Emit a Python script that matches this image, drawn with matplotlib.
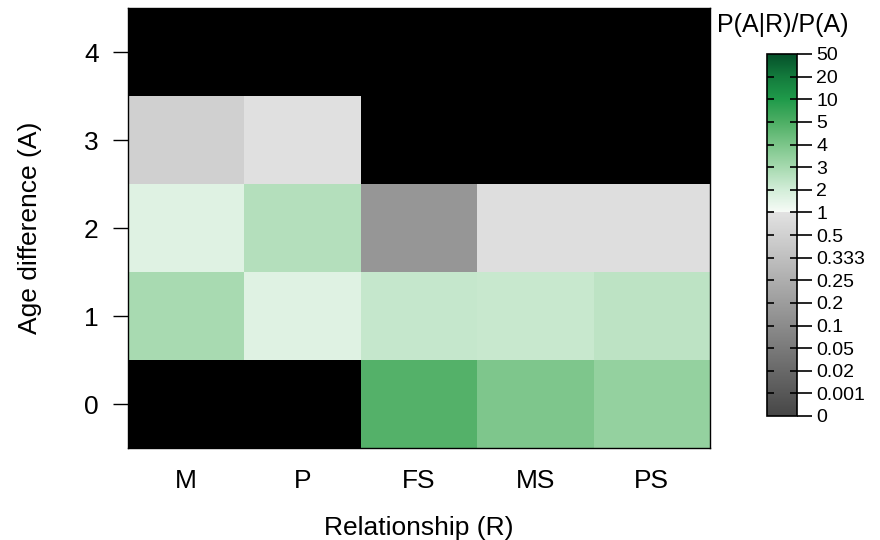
import numpy as np
import matplotlib
matplotlib.use('Agg')
import matplotlib.pyplot as plt
from matplotlib.colors import ListedColormap, to_rgb

plt.rcParams['font.family'] = ['Liberation Sans', 'DejaVu Sans']

relationships = ['M', 'P', 'FS', 'MS', 'PS']
age_diff = [0, 1, 2, 3, 4]
# P(A|R)/P(A), rows = age difference 0..4, nan = no data (drawn black)
ratio_a0 = [np.nan, np.nan, 4.85, 3.93, 3.42]
ratio_a1 = [2.95, 1.65, 2.30, 2.23, 2.48]
ratio_a2 = [1.65, 2.68, 0.16, 0.88, 0.88]
ratio_a3 = [0.49, 0.94, np.nan, np.nan, np.nan]
ratio_a4 = [np.nan, np.nan, np.nan, np.nan, np.nan]

# colour key breaks (equally spaced on the bar)
key_breaks = [0, 0.001, 0.02, 0.05, 0.1, 0.2, 0.25, 0.333, 0.5, 1, 2, 3, 4, 5, 10, 20, 50]
key_labels = ['0', '0.001', '0.02', '0.05', '0.1', '0.2', '0.25', '0.333', '0.5',
              '1', '2', '3', '4', '5', '10', '20', '50']

# colour map: grey below 1, white->green above 1
n_low = 9 * 100
n_high = 7 * 100
grey = np.linspace(70, 226, n_low) / 255.0
low_cols = np.column_stack([grey, grey, grey])
green_anchor = ['#f7fbf7', '#d2edd8', '#a6d9af', '#7bc589', '#4dae64',
                '#1f9a4a', '#137a3c', '#05502a']
ga = np.array([to_rgb(c) for c in green_anchor])
xs = np.linspace(0, 1, len(ga))
tt = np.linspace(0, 1, n_high)
high_cols = np.column_stack([np.interp(tt, xs, ga[:, k]) for k in range(3)])
cmap = ListedColormap(np.vstack([low_cols, high_cols]))
cmap.set_bad('black')

ratios = np.array([ratio_a0, ratio_a1, ratio_a2, ratio_a3, ratio_a4])
pos = np.interp(ratios, key_breaks, np.arange(len(key_breaks)))
pos = np.ma.masked_invalid(np.where(np.isnan(ratios), np.nan, pos))

fig = plt.figure(figsize=(8.8, 5.4), dpi=100)
ax = fig.add_axes([128 / 880, 92 / 540, 582 / 880, 440 / 540])
mesh = ax.pcolormesh(np.arange(6) - 0.5, np.arange(6) - 0.5, pos, cmap=cmap,
                     vmin=0, vmax=len(key_breaks) - 1, shading='flat')
ax.set_xlim(-0.5, 4.5)
ax.set_ylim(-0.5, 4.5)
ax.set_xticks(range(len(relationships)))
ax.set_xticklabels(relationships)
ax.set_yticks(age_diff)
ax.set_yticklabels([str(a) for a in age_diff])
ax.tick_params(axis='x', length=0, pad=15, labelsize=19)
ax.tick_params(axis='y', length=11, width=1, pad=10, labelsize=19)
for s in ax.spines.values():
    s.set_linewidth(1)
ax.set_xlabel('Relationship (R)', fontsize=19, va='center')
ax.xaxis.set_label_coords(0.5, -0.182)
ax.set_ylabel('Age difference (A)', fontsize=19, va='center')
ax.yaxis.set_label_coords(-0.168, 0.5)

cax = fig.add_axes([767 / 880, 124 / 540, 30 / 880, 362 / 540])
cb = fig.colorbar(mesh, cax=cax, ticks=range(len(key_breaks)))
cb.set_ticklabels(key_labels)
cb.outline.set_linewidth(1.2)
cax.yaxis.remove_overlapping_locs = False
cax.set_yticks(range(1, len(key_breaks) - 1), minor=True)
cax.tick_params(axis='y', which='major', right=True, left=False, direction='out',
                length=11, width=1.2, pad=3, labelsize=14)
cax.tick_params(axis='y', which='minor', right=True, left=True, direction='in',
                length=5, width=1.2)
fig.text(783 / 880, 1 - 25 / 540, 'P(A|R)/P(A)', fontsize=18, ha='center', va='center')

fig.savefig('out.png', dpi=100)
